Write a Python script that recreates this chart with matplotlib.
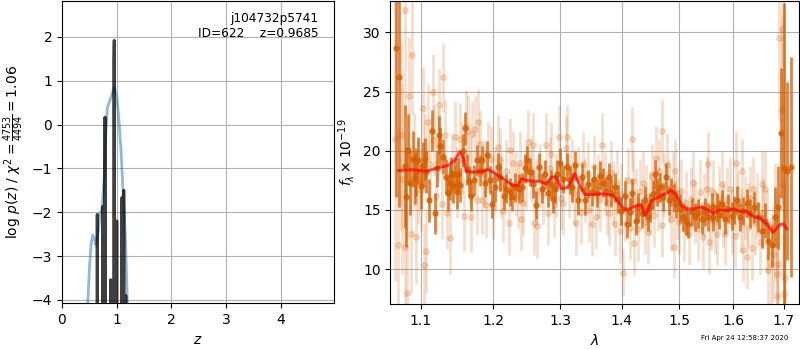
import matplotlib
matplotlib.use("Agg")
import matplotlib.pyplot as plt
from matplotlib.ticker import NullLocator
import numpy as np

# ---------------- left panel data ----------------
z_coarse = [0.47, 0.50, 0.53, 0.56, 0.59, 0.62, 0.66, 0.695, 0.73, 0.77, 0.80, 0.83,
            0.88, 0.93, 0.955, 1.00, 1.04, 1.08, 1.11, 1.14, 1.165, 1.195]
logp_coarse = [-4.1, -3.3, -2.75, -2.52, -2.6, -2.75, -2.45, -2.06, -1.9, -1.24, -0.18, 0.39,
               0.57, 0.76, 0.84, 0.65, 0.12, -0.63, -1.39, -2.06, -2.82, -4.1]

z_fine = [0.630, 0.640, 0.645, 0.650, 0.660, 0.730, 0.740, 0.744, 0.748, 0.755, 0.760,
          0.775, 0.782, 0.786, 0.790, 0.797, 0.880, 0.887, 0.890, 0.893, 0.900,
          0.935, 0.945, 0.950, 0.955, 0.960, 0.968, 0.990, 0.996, 1.000, 1.004, 1.010,
          1.085, 1.093, 1.097, 1.101, 1.110, 1.120, 1.125, 1.128, 1.132, 1.140,
          1.155, 1.162, 1.165, 1.168, 1.175]
logp_fine = [-6, -6, -2.05, -6, -6, -6, -6, -1.87, -6, -2.5, -6,
             -6, -6, 0.17, -6, -6, -6, -6, -3.54, -6, -6,
             -6, -6, 1.45, 1.92, -6, -6, -6, -6, -2.2, -6, -6,
             -6, -6, -1.66, -6, -6, -6, -6, -1.5, -6, -6,
             -6, -6, -3.9, -6, -6]

z_ticks = [0, 1, 2, 3, 4]
logp_ticks = [-4, -3, -2, -1, 0, 1, 2]

# ---------------- right panel data ----------------
wave_dark = [1.0675, 1.0717, 1.0791, 1.0813, 1.0836, 1.0865, 1.0895, 1.0921, 1.0943, 1.0964,
             1.1007, 1.1033, 1.1053, 1.1075, 1.1110, 1.1150, 1.1186, 1.1213, 1.1240, 1.1260,
             1.1298, 1.1344, 1.1369, 1.1389, 1.1413, 1.1437, 1.1458, 1.1486, 1.1503, 1.1537,
             1.1569, 1.1596, 1.1624, 1.1652, 1.1690, 1.1729, 1.1769, 1.1807, 1.1845, 1.1878,
             1.1911, 1.1949, 1.1988, 1.2021, 1.2069, 1.2104, 1.2156, 1.2191, 1.2239, 1.2279,
             1.2323, 1.2372, 1.2427, 1.2461, 1.2496, 1.2547, 1.2586, 1.2637, 1.2677, 1.2729,
             1.2764, 1.2815, 1.2867, 1.2892, 1.2926, 1.2954, 1.2996, 1.3047, 1.3110, 1.3153,
             1.3192, 1.3232, 1.3284, 1.3339, 1.3392, 1.3445, 1.3500, 1.3537, 1.3581, 1.3634,
             1.3689, 1.3733, 1.3787, 1.3827, 1.3882, 1.3937, 1.3994, 1.4050, 1.4088, 1.4134,
             1.4180, 1.4236, 1.4275, 1.4334, 1.4391, 1.4448, 1.4489, 1.4529, 1.4564, 1.4604,
             1.4652, 1.4710, 1.4758, 1.4816, 1.4859, 1.4900, 1.4948, 1.5008, 1.5067, 1.5116,
             1.5165, 1.5220, 1.5280, 1.5341, 1.5404, 1.5465, 1.5526, 1.5590, 1.5619, 1.5683,
             1.5727, 1.5778, 1.5840, 1.5903, 1.5968, 1.6012, 1.6064, 1.6128, 1.6192, 1.6258,
             1.6323, 1.6401, 1.6486, 1.6553, 1.6619, 1.6685, 1.6753, 1.6820, 1.6886, 1.6941,
             1.7002, 1.7070, 1.7139]
flux_dark = [28.7, 26.2, 18.7, 16.1, 20.1, 17.3, 19.3, 17.7, 18.2, 19.2,
             17.0, 18.8, 19.3, 18.2, 15.8, 21.7, 14.7, 18.5, 21.3, 20.4,
             19.5, 17.8, 16.4, 17.3, 18.0, 17.0, 18.0, 16.5, 18.0, 17.1,
             20.0, 21.9, 18.4, 17.4, 16.2, 17.5, 19.2, 18.3, 19.2, 17.3,
             19.6, 17.5, 15.5, 16.9, 18.6, 17.8, 16.2, 16.8, 16.5, 16.1,
             16.9, 16.8, 16.9, 18.5, 19.2, 18.2, 17.2, 15.4, 18.6, 16.8,
             18.0, 16.4, 17.2, 15.9, 16.8, 18.0, 19.0, 17.6, 18.6, 17.5,
             16.9, 18.75, 15.8, 17.8, 15.8, 17.2, 16.5, 17.6, 16.4, 17.9,
             17.3, 16.6, 17.8, 16.4, 16.9, 15.9, 14.9, 16.2, 13.8, 14.8,
             16.4, 14.1, 15.2, 14.7, 15.8, 14.4, 15.2, 16.3, 18.0, 16.5,
             16.9, 16.1, 17.8, 15.8, 16.5, 16.0, 15.5, 15.1, 14.4, 14.1,
             13.8, 14.8, 14.4, 14.7, 14.2, 14.8, 14.4, 15.2, 14.4, 15.2,
             14.6, 15.5, 14.2, 15.1, 14.5, 15.0, 15.8, 14.4, 14.9, 15.6,
             14.7, 15.2, 14.4, 13.2, 14.1, 12.4, 12.0, 14.4, 15.2, 21.5,
             18.5, 18.3, 18.6]
err_dark = [12.6, 11.0, 5.2, 4.2, 3.0, 2.7, 2.4, 2.2, 2.0, 2.0,
            1.9, 1.9, 1.8, 1.8, 1.8, 1.7, 1.7, 1.6, 1.6, 1.6,
            1.5, 1.5, 1.5, 1.5, 1.5, 1.4, 1.4, 1.4, 1.4, 1.4,
            1.4, 1.4, 1.3, 1.3, 1.3, 1.3, 1.3, 1.3, 1.2, 1.2,
            1.2, 1.2, 1.2, 1.2, 1.2, 1.2, 1.2, 1.2, 1.2, 1.2,
            1.2, 1.2, 1.2, 1.2, 1.2, 1.2, 1.2, 1.2, 1.2, 1.2,
            1.2, 1.2, 1.2, 1.2, 1.2, 1.2, 1.2, 1.2, 1.2, 1.2,
            1.2, 1.2, 1.2, 1.2, 1.2, 1.2, 1.2, 1.2, 1.2, 1.2,
            1.2, 1.2, 1.2, 1.2, 1.2, 1.2, 1.2, 1.2, 1.2, 1.2,
            1.2, 1.2, 1.2, 1.2, 1.2, 1.2, 1.2, 1.2, 1.2, 1.2,
            1.2, 1.2, 1.2, 1.2, 1.2, 1.2, 1.2, 1.2, 1.2, 1.2,
            1.2, 1.2, 1.2, 1.2, 1.2, 1.2, 1.2, 1.2, 1.2, 1.2,
            1.2, 1.2, 1.2, 1.2, 1.2, 1.2, 1.2, 1.2, 1.2, 1.2,
            1.2, 1.3, 1.3, 1.4, 1.5, 1.6, 1.8, 2.5, 3.5, 5.5,
            14.0, 7.5, 9.3]

wave_light = [1.0669, 1.0701, 1.0748, 1.0761, 1.0791, 1.0800, 1.0821, 1.0847, 1.0878, 1.0886,
              1.0908, 1.0934, 1.0967, 1.1009, 1.1030, 1.1040, 1.1059, 1.1075, 1.1099, 1.1126,
              1.1163, 1.1180, 1.1209, 1.1227, 1.1244, 1.1281, 1.1298, 1.1328, 1.1352, 1.1389,
              1.1424, 1.1458, 1.1492, 1.1527, 1.1555, 1.1582, 1.1610, 1.1642, 1.1666, 1.1690,
              1.1704, 1.1736, 1.1769, 1.1783, 1.1807, 1.1845, 1.1871, 1.1902, 1.1920, 1.1974,
              1.1996, 1.2028, 1.2069, 1.2094, 1.2115, 1.2141, 1.2181, 1.2229, 1.2247, 1.2288,
              1.2328, 1.2365, 1.2387, 1.2412, 1.2436, 1.2476, 1.2511, 1.2551, 1.2586, 1.2601,
              1.2634, 1.2653, 1.2695, 1.2733, 1.2779, 1.2815, 1.2840, 1.2867, 1.2902, 1.2941,
              1.2985, 1.3019, 1.3047, 1.3090, 1.3110, 1.3137, 1.3184, 1.3224, 1.3259, 1.3287,
              1.3323, 1.3359, 1.3400, 1.3440, 1.3464, 1.3500, 1.3537, 1.3569, 1.3610, 1.3643,
              1.3679, 1.3717, 1.3750, 1.3787, 1.3816, 1.3849, 1.3882, 1.3915, 1.3966, 1.3991,
              1.4021, 1.4058, 1.4100, 1.4134, 1.4180, 1.4190, 1.4202, 1.4245, 1.4275, 1.4313,
              1.4361, 1.4391, 1.4417, 1.4448, 1.4477, 1.4512, 1.4547, 1.4582, 1.4617, 1.4643,
              1.4682, 1.4692, 1.4731, 1.4781, 1.4811, 1.4846, 1.4882, 1.4900, 1.4918, 1.4963,
              1.4999, 1.5035, 1.5080, 1.5125, 1.5176, 1.5207, 1.5249, 1.5289, 1.5335, 1.5372,
              1.5422, 1.5455, 1.5496, 1.5526, 1.5539, 1.5586, 1.5619, 1.5651, 1.5683, 1.5727,
              1.5778, 1.5811, 1.5840, 1.5887, 1.5934, 1.5982, 1.6030, 1.6060, 1.6099, 1.6147,
              1.6176, 1.6190, 1.6225, 1.6258, 1.6293, 1.6332, 1.6356, 1.6388, 1.6431, 1.6470,
              1.6520, 1.6553, 1.6589, 1.6619, 1.6659, 1.6685, 1.6733, 1.6785, 1.6830, 1.6854,
              1.6866, 1.6886, 1.6907, 1.6955, 1.6967, 1.6988, 1.7008, 1.7022]
flux_light = [21.0, 12.0, 21.3, 17.6, 31.9, 11.9, 8.0, 24.6, 13.0, 28.1,
              19.2, 12.7, 17.4, 16.7, 23.6, 10.3, 19.8, 11.5, 22.4, 18.9,
              25.0, 20.9, 16.2, 20.5, 23.9, 15.5, 26.2, 21.3, 14.7, 12.6,
              18.5, 21.2, 17.3, 21.0, 19.3, 14.5, 22.1, 21.7, 18.2, 14.4,
              21.4, 21.8, 15.8, 22.4, 20.6, 15.8, 18.0, 15.4, 19.6, 19.3,
              15.2, 17.6, 20.3, 19.2, 17.0, 14.9, 18.3, 13.9, 20.1, 19.0,
              17.2, 16.2, 19.0, 14.2, 15.6, 17.8, 20.7, 18.4, 20.5, 13.9,
              16.6, 13.6, 17.9, 16.4, 20.5, 14.7, 18.5, 19.7, 15.4, 17.1,
              21.2, 16.0, 15.6, 20.2, 21.2, 17.0, 18.3, 16.4, 13.9, 17.6,
              14.8, 18.9, 16.7, 18.0, 15.0, 13.8, 18.6, 14.4, 17.0, 15.9,
              20.5, 17.2, 15.6, 14.7, 18.1, 16.4, 13.8, 17.3, 13.2, 16.3,
              9.7, 15.1, 17.5, 13.5, 21.0, 17.4, 12.2, 15.8, 13.4, 16.6,
              17.3, 14.0, 16.1, 13.1, 15.6, 17.9, 14.6, 19.4, 15.9, 18.3,
              13.7, 21.7, 17.1, 18.8, 16.6, 14.2, 17.2, 11.9, 18.3, 15.2,
              14.0, 16.6, 13.4, 15.6, 13.0, 15.9, 17.3, 14.9, 13.4, 16.5,
              12.7, 15.4, 16.8, 18.9, 12.3, 14.3, 16.5, 14.0, 13.0, 16.0,
              17.2, 14.6, 13.0, 15.8, 16.8, 14.0, 12.8, 19.0, 15.6, 14.1,
              18.3, 11.6, 15.2, 11.0, 14.6, 16.0, 11.8, 16.8, 13.9, 15.4,
              12.3, 17.2, 14.7, 16.8, 13.2, 9.9, 10.4, 11.3, 14.0, 7.7,
              9.6, 10.4, 29.5, 30.3, 23.4, 17.1, 7.9, 9.2]
err_light = [12.0, 10.0, 8.0, 8.0, 9.0, 7.0, 7.0, 5.0, 5.0, 5.0,
             4.0, 4.0, 3.5, 3.5, 3.5, 3.5, 3.3, 3.5, 3.2, 3.0,
             3.2, 3.0, 3.0, 3.0, 3.0, 3.0, 2.9, 3.0, 3.0, 3.0,
             3.0, 3.0, 3.0, 3.0, 3.0, 3.0, 3.0, 3.0, 3.0, 3.0,
             2.8, 2.8, 2.8, 2.8, 2.8, 2.8, 2.8, 2.8, 2.8, 2.8,
             2.7, 2.7, 2.7, 2.7, 2.7, 2.7, 2.7, 2.7, 2.7, 2.7,
             2.7, 2.7, 2.7, 2.7, 2.7, 2.7, 2.7, 2.7, 2.7, 2.7,
             2.7, 2.7, 2.7, 2.7, 2.7, 2.7, 2.7, 2.7, 2.7, 2.7,
             2.7, 2.7, 2.7, 2.7, 2.7, 2.7, 2.7, 2.7, 2.7, 2.7,
             2.7, 2.7, 2.7, 2.7, 2.7, 2.7, 2.7, 2.7, 2.7, 2.7,
             2.7, 2.7, 2.7, 2.7, 2.7, 2.7, 2.7, 2.7, 2.7, 2.7,
             2.0, 2.7, 2.7, 2.7, 2.7, 2.7, 2.7, 2.7, 2.7, 2.7,
             2.7, 2.7, 2.7, 2.7, 2.7, 2.7, 2.7, 2.7, 2.7, 2.7,
             2.7, 2.7, 2.7, 2.7, 2.7, 2.7, 2.7, 2.7, 2.7, 2.7,
             2.7, 2.7, 2.7, 2.7, 2.7, 2.7, 2.7, 2.7, 2.7, 2.7,
             2.7, 2.7, 2.7, 2.7, 2.7, 2.7, 2.7, 2.7, 2.7, 2.7,
             2.7, 2.7, 2.7, 2.7, 2.7, 2.7, 2.7, 2.7, 2.7, 2.7,
             2.7, 2.7, 2.7, 2.7, 2.7, 2.7, 2.7, 2.7, 2.7, 2.7,
             2.8, 2.8, 3.0, 3.2, 3.5, 3.5, 4.0, 4.0, 5.0, 5.0,
             6.0, 6.0, 7.0, 7.0, 8.0, 8.0, 9.0, 9.0]

wave_model = [1.0717, 1.0899, 1.1075, 1.1254, 1.1366, 1.1458, 1.1527, 1.1573, 1.1620, 1.1713,
              1.1854, 1.1925, 1.1997, 1.2142, 1.2288, 1.2362, 1.2413, 1.2487, 1.2688, 1.2790,
              1.2867, 1.2944, 1.3022, 1.3126, 1.3232, 1.3311, 1.3392, 1.3526, 1.3689, 1.3855,
              1.3966, 1.4050, 1.4134, 1.4249, 1.4335, 1.4392, 1.4431, 1.4508, 1.4624, 1.4742,
              1.4861, 1.4950, 1.5040, 1.5131, 1.5251, 1.5374, 1.5498, 1.5621, 1.5747, 1.5874,
              1.6000, 1.6129, 1.6259, 1.6388, 1.6520, 1.6653, 1.6786, 1.6921, 1.7002, 1.7058]
flux_model = [18.33, 18.39, 18.27, 18.6, 18.75, 19.2, 19.9, 19.46, 18.27, 18.19,
              18.27, 18.39, 18.19, 17.63, 17.06, 17.06, 17.63, 17.48, 17.4, 17.2,
              17.76, 17.76, 16.78, 16.92, 18.05, 17.06, 16.3, 16.3, 16.36, 16.21,
              15.5, 15.0, 15.08, 15.36, 15.45, 14.52, 14.8, 15.79, 16.07, 16.36,
              16.64, 16.21, 15.36, 15.08, 15.08, 15.22, 15.08, 14.71, 15.0, 14.94,
              15.08, 14.88, 14.88, 14.43, 14.32, 13.81, 13.1, 13.75, 13.81, 13.39]

wave_ticks = [1.1, 1.2, 1.3, 1.4, 1.5, 1.6, 1.7]
flux_ticks = [10, 15, 20, 25, 30]

target = 'j104732p5741'
obj_id = 622
zbest = 0.9685
timestamp = 'Fri Apr 24 12:58:37 2020'

grism_color = (0.8352941176470589, 0.3686274509803922, 0.0)

fig = plt.figure(figsize=(8, 3.5), dpi=100)
ax1 = fig.add_axes([0.0775, 0.133, 0.34, 0.864])
ax2 = fig.add_axes([0.488, 0.131, 0.511, 0.866])

# left panel
ax1.plot(z_coarse, logp_coarse, color='#1f77b4', alpha=0.5, lw=2, zorder=2)
ax1.plot(z_fine, logp_fine, color='k', alpha=0.75, lw=2.2, zorder=3)
ax1.set_xlim(0, 4.97)
ax1.set_ylim(-4.08, 2.82)
ax1.set_xticks(z_ticks)
ax1.set_yticks(logp_ticks)
ax1.grid(True)
ax1.set_axisbelow(True)
ax1.set_xlabel(r'$z$')
ax1.set_ylabel(r'log $p(z)$ / $\chi^2=\frac{4753}{4494}=1.06$')
ax1.text(0.942, 0.964, '{0}\nID={1:<5d}  z={2:.4f}'.format(target, obj_id, zbest),
         ha='right', va='top', multialignment='right',
         transform=ax1.transAxes, fontsize=8.7)

# right panel
ax2.errorbar(wave_light, flux_light, yerr=err_light, color=grism_color, alpha=0.2,
             marker='o', ms=4, linestyle='None', elinewidth=2, zorder=1)
ax2.errorbar(wave_dark, flux_dark, yerr=err_dark, color=grism_color, alpha=0.75,
             marker='o', ms=3.5, linestyle='None', elinewidth=2, zorder=2)
ax2.plot(wave_model, flux_model, color='r', alpha=0.7, lw=2.2, zorder=3)
ax2.set_xscale('log')
ax2.set_xlim(1.0607, 1.7318)
ax2.set_ylim(7.03, 32.65)
ax2.set_xticks(wave_ticks)
ax2.set_xticklabels([f'{t:.1f}' for t in wave_ticks])
ax2.xaxis.set_minor_locator(NullLocator())
ax2.set_yticks(flux_ticks)
ax2.grid(True)
ax2.set_axisbelow(True)
ax2.set_xlabel(r'$\lambda$')
ax2.set_ylabel(r'$f_\lambda\times10^{-19}$')

fig.text(0.985, 0.025, timestamp, ha='right', va='bottom', fontsize=5)

fig.savefig('out.png', dpi=100)
